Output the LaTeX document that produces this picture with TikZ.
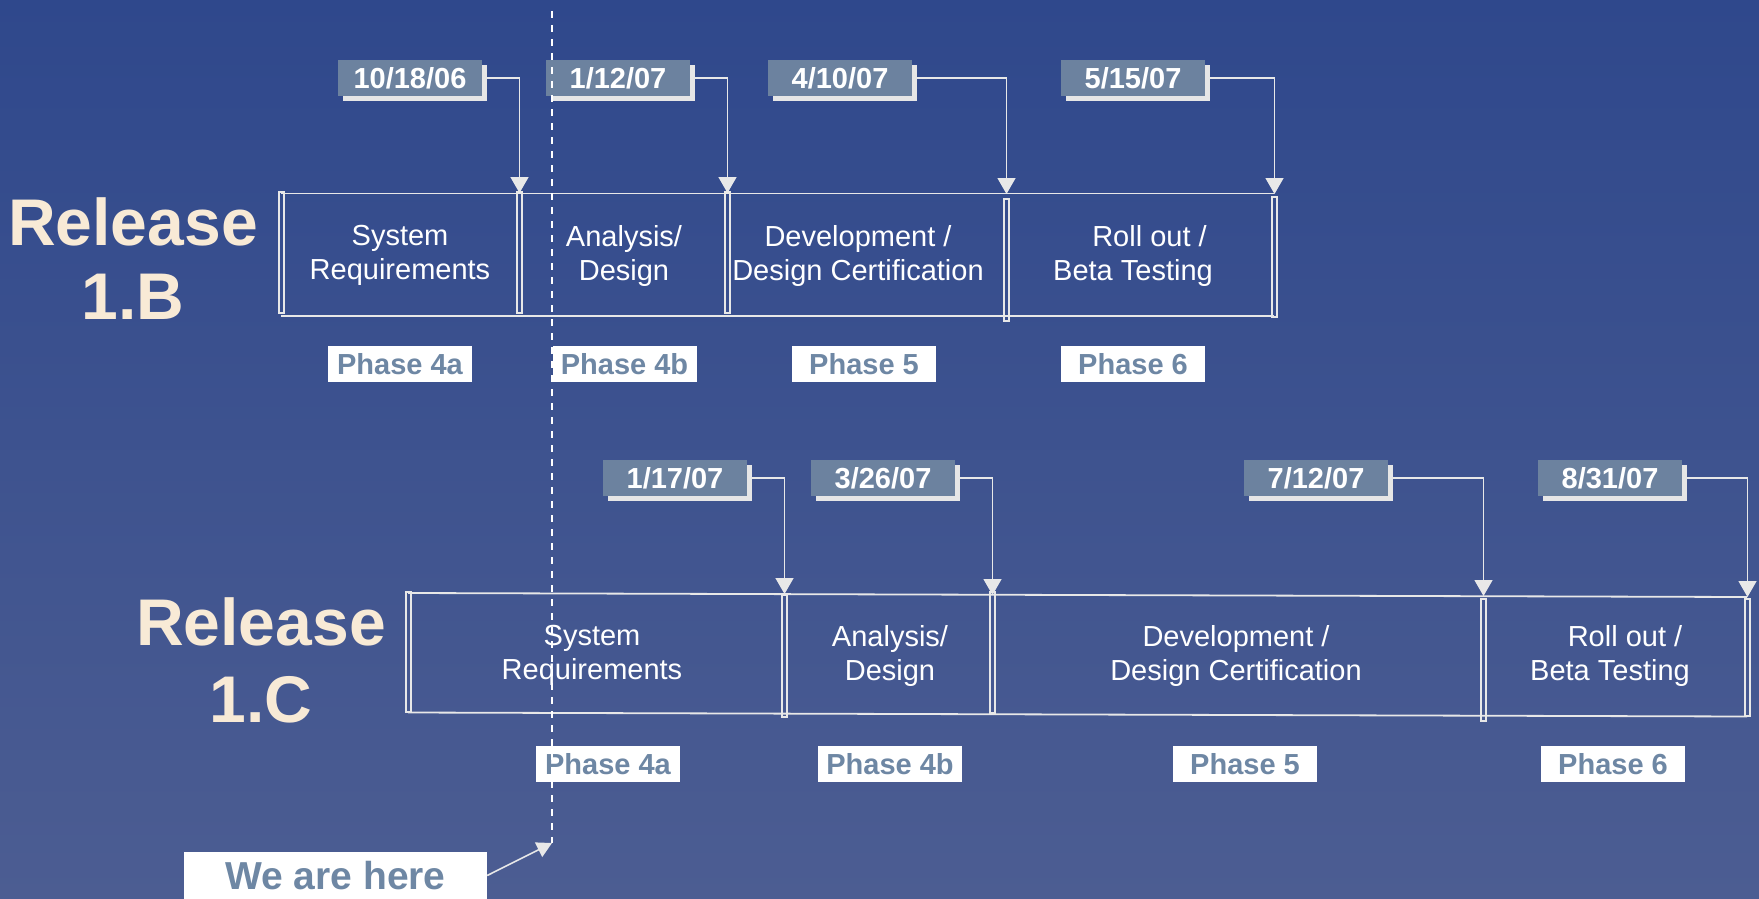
\documentclass[tikz,border=0pt]{standalone}
\usepackage{fontspec}
\setmainfont{Liberation Sans}
\usetikzlibrary{arrows.meta,shadows}

\definecolor{bgtop}{RGB}{47,72,140}
\definecolor{bgbot}{RGB}{76,93,146}
\definecolor{linegray}{RGB}{232,232,232}
\definecolor{dategray}{RGB}{108,130,159}
\definecolor{phasetext}{RGB}{110,135,164}
\definecolor{releasecol}{RGB}{248,234,214}
\definecolor{shadowgray}{RGB}{230,230,230}

\begin{document}
\begin{tikzpicture}[x=1pt,y=-1pt,
  datebox/.style={fill=dategray, text=white, font=\bfseries\fontsize{29}{34}\selectfont,
    minimum width=144pt, minimum height=36pt, inner sep=0pt,
    drop shadow={shadow xshift=5pt, shadow yshift=-5pt, fill=shadowgray, opacity=1}},
  phaselabel/.style={fill=white, text=phasetext, font=\bfseries\fontsize{29}{34}\selectfont,
    minimum width=144pt, minimum height=36pt, inner sep=0pt},
  steptext/.style={text=white, font=\fontsize{29}{34}\selectfont, align=center, inner sep=0pt, anchor=north},
  release/.style={text=releasecol, font=\bfseries\fontsize{66}{74}\selectfont, align=center, inner sep=0pt, anchor=north},
  hline/.style={draw=linegray, line width=1.8pt},
  divider/.style={draw=linegray, line width=1.7pt},
  conn/.style={draw=linegray, line width=1.5pt, -{Triangle[width=18pt,length=16pt]}},
  hereconn/.style={draw=linegray, line width=1.6pt, -{Triangle[width=16pt,length=15pt]}},
  dashline/.style={draw=white, line width=1.6pt, dash pattern=on 7pt off 7pt},
  herebox/.style={fill=white, text=phasetext, font=\bfseries\fontsize{39}{44}\selectfont,
    minimum width=303pt, minimum height=48pt, inner sep=0pt}
]
\useasboundingbox (0,0) rectangle (1759,899);
\fill[top color=bgtop, bottom color=bgbot] (0,0) rectangle (1759,899);

% ---------------- Release 1.B ----------------
\node[release] (rel1) at (133,197) {Release\\1.B};

\draw[hline] (281,193.5) -- (1274,193.5);
\draw[hline] (281,316) -- (1274,316);
\draw[divider] (279,192) rectangle (284,313);
\draw[divider] (517,192) rectangle (522,313);
\draw[divider] (725,192) rectangle (730,313);
\draw[divider] (1004,199) rectangle (1009,321);
\draw[divider] (1272,197) rectangle (1277,317);

\node[steptext] (s1a) at (400,225.5) {System\\Requirements};
\node[steptext] (s1b) at (624,225.5) {Analysis/\\Design};
\node[steptext] (s1c) at (858,225.5) {Development /\\Design Certification};
\node[steptext] (s1d) at (1133,225.5) {\hspace*{33pt}Roll out /\\Beta Testing};

\coordinate (t1a) at (519.5,193);
\coordinate (t1b) at (727.5,193);
\coordinate (t1c) at (1006.5,194);
\coordinate (t1d) at (1274.5,194);

\node[datebox] (d1a) at (410,78) {10/18/06};
\node[datebox] (d1b) at (618,78) {1/12/07};
\node[datebox] (d1c) at (840,78) {4/10/07};
\node[datebox] (d1d) at (1133,78) {5/15/07};

\draw[conn] ([xshift=5pt]d1a.east) -| (t1a);
\draw[conn] ([xshift=5pt]d1b.east) -| (t1b);
\draw[conn] ([xshift=5pt]d1c.east) -| (t1c);
\draw[conn] ([xshift=5pt]d1d.east) -| (t1d);

\node[phaselabel] (p1a) at (400,364) {Phase 4a};
\node[phaselabel] (p1b) at (624.5,364) {Phase 4b};
\node[phaselabel] (p1c) at (864,364) {Phase 5};
\node[phaselabel] (p1d) at (1133,364) {Phase 6};

% ---------------- Release 1.C ----------------
\node[release] (rel2) at (261,597) {Release\\[3pt]1.C};

\draw[hline] (408,593) -- (1747,597);
\draw[hline] (408,712.5) -- (1747,716.5);
\draw[divider] (406,592) rectangle (411,712);
\draw[divider] (782,595) rectangle (787,717);
\draw[divider] (990,592) rectangle (995,713);
\draw[divider] (1481,599) rectangle (1486,721);
\draw[divider] (1745,599) rectangle (1750,716);

\node[steptext] (s2a) at (592,625.5) {System\\Requirements};
\node[steptext] (s2b) at (890,625.5) {Analysis/\\Design};
\node[steptext] (s2c) at (1236,625.5) {Development /\\Design Certification};
\node[steptext] (s2d) at (1610,625.5) {\hspace*{30pt}Roll out /\\Beta Testing};

\coordinate (t2a) at (784.5,594);
\coordinate (t2b) at (992.5,595);
\coordinate (t2c) at (1483.5,596);
\coordinate (t2d) at (1747.5,597);

\node[datebox] (d2a) at (675,478) {1/17/07};
\node[datebox] (d2b) at (883,478) {3/26/07};
\node[datebox] (d2c) at (1316,478) {7/12/07};
\node[datebox] (d2d) at (1610,478) {8/31/07};

\draw[conn] ([xshift=5pt]d2a.east) -| (t2a);
\draw[conn] ([xshift=5pt]d2b.east) -| (t2b);
\draw[conn] ([xshift=5pt]d2c.east) -| (t2c);
\draw[conn] ([xshift=5pt]d2d.east) -| (t2d);

\node[phaselabel] (p2a) at (608,764) {Phase 4a};
\node[phaselabel] (p2b) at (890,764) {Phase 4b};
\node[phaselabel] (p2c) at (1245,764) {Phase 5};
\node[phaselabel] (p2d) at (1613,764) {Phase 6};

% ---------------- We are here ----------------
\coordinate (dtop) at (552,11);
\coordinate (here) at (552,843);
\draw[dashline] (dtop) -- (here);

\node[herebox] (we) at (335.5,875.5) {We are here};
\draw[hereconn] (we.east) -- (here);
\end{tikzpicture}
\end{document}
